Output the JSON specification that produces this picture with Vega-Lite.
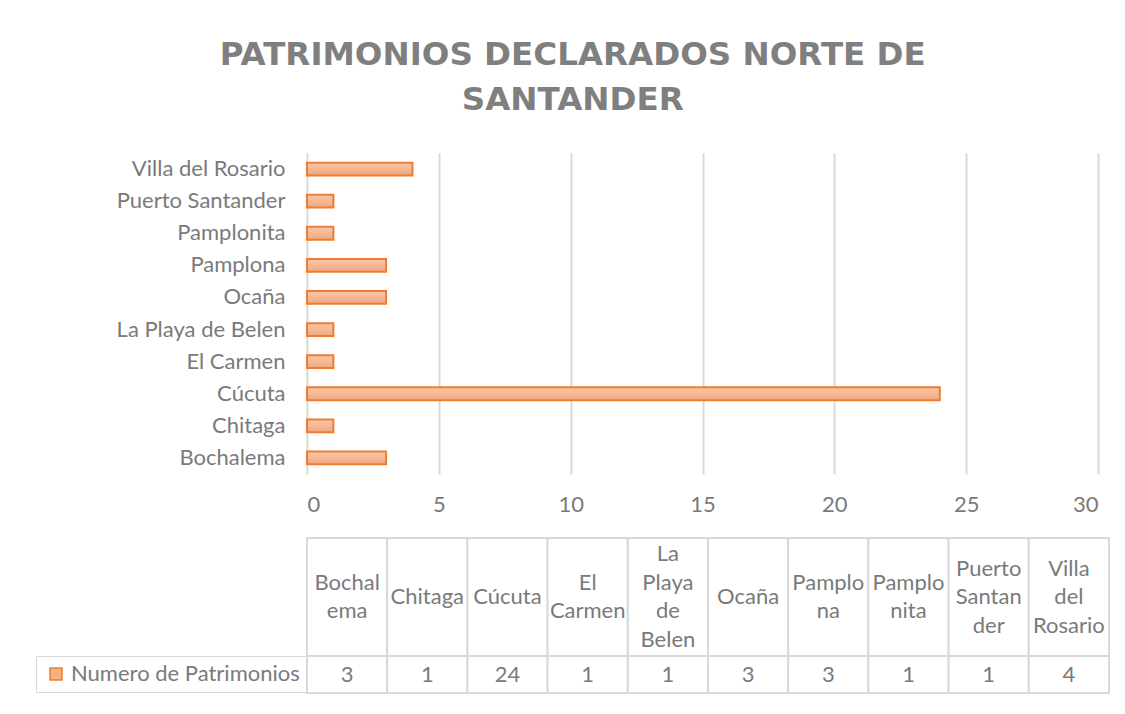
{
  "$schema": "https://vega.github.io/schema/vega-lite/v6.json",
  "background": "white",
  "padding": {"left": 35, "top": 38, "right": 15, "bottom": 20},
  "title": {
    "text": ["PATRIMONIOS DECLARADOS NORTE DE", "SANTANDER"],
    "font": "DejaVu Sans",
    "fontSize": 32.5,
    "fontWeight": "bold",
    "color": "#7f7f7f",
    "anchor": "middle",
    "frame": "bounds",
    "lineHeight": 45,
    "offset": 37
  },
  "datasets": {
    "d": [
      {"municipio": "Bochalema", "label": "Bochal\nema", "lineas": 2, "n": 3, "serie": "Numero de Patrimonios"},
      {"municipio": "Chitaga", "label": "Chitaga", "lineas": 1, "n": 1, "serie": "Numero de Patrimonios"},
      {"municipio": "Cúcuta", "label": "Cúcuta", "lineas": 1, "n": 24, "serie": "Numero de Patrimonios"},
      {"municipio": "El Carmen", "label": "El\nCarmen", "lineas": 2, "n": 1, "serie": "Numero de Patrimonios"},
      {"municipio": "La Playa de Belen", "label": "La\nPlaya\nde\nBelen", "lineas": 4, "n": 1, "serie": "Numero de Patrimonios"},
      {"municipio": "Ocaña", "label": "Ocaña", "lineas": 1, "n": 3, "serie": "Numero de Patrimonios"},
      {"municipio": "Pamplona", "label": "Pamplo\nna", "lineas": 2, "n": 3, "serie": "Numero de Patrimonios"},
      {"municipio": "Pamplonita", "label": "Pamplo\nnita", "lineas": 2, "n": 1, "serie": "Numero de Patrimonios"},
      {"municipio": "Puerto Santander", "label": "Puerto\nSantan\nder", "lineas": 3, "n": 1, "serie": "Numero de Patrimonios"},
      {"municipio": "Villa del Rosario", "label": "Villa\ndel\nRosario", "lineas": 3, "n": 4, "serie": "Numero de Patrimonios"}
    ]
  },
  "config": {
    "font": "Lato",
    "view": {"stroke": null},
    "axis": {"labelFont": "Lato", "labelColor": "#7a7a7a", "labelFontSize": 22}
  },
  "bounds": "flush",
  "spacing": 64,
  "resolve": {"scale": {"opacity": "independent"}, "legend": {"opacity": "independent"}},
  "vconcat": [
    {
      "width": 791,
      "height": 321,
      "data": {"name": "d"},
      "mark": {
        "type": "bar",
        "fill": {"gradient": "linear", "x1": 0, "y1": 0, "x2": 0, "y2": 1,
          "stops": [{"offset": 0, "color": "#f8c8ab"}, {"offset": 1, "color": "#f4a67c"}]},
        "stroke": "#ed7d31",
        "strokeWidth": 2
      },
      "encoding": {
        "y": {
          "field": "municipio", "type": "nominal",
          "sort": ["Villa del Rosario", "Puerto Santander", "Pamplonita", "Pamplona", "Ocaña", "La Playa de Belen", "El Carmen", "Cúcuta", "Chitaga", "Bochalema"],
          "scale": {"paddingInner": 0.6, "paddingOuter": 0.3},
          "axis": {"title": null, "ticks": false, "domain": false, "labelPadding": 22, "labelLimit": 300}
        },
        "x": {
          "field": "n", "type": "quantitative",
          "scale": {"domain": [0, 30], "nice": false},
          "axis": {"title": null, "values": [0, 5, 10, 15, 20, 25, 30], "grid": true, "gridColor": "#d9d9d9", "gridWidth": 2,
            "domain": false, "ticks": false, "labelPadding": 20}
        }
      }
    },
    {
      "bounds": "flush",
      "spacing": 0,
      "resolve": {"scale": {"opacity": "independent"}, "legend": {"opacity": "independent"}},
      "vconcat": [
        {
          "width": 802,
          "height": 118,
          "data": {"name": "d"},
          "encoding": {
            "x": {
              "field": "municipio", "type": "nominal",
              "sort": ["Bochalema", "Chitaga", "Cúcuta", "El Carmen", "La Playa de Belen", "Ocaña", "Pamplona", "Pamplonita", "Puerto Santander", "Villa del Rosario"],
              "scale": {"paddingInner": 0, "paddingOuter": 0},
              "axis": null
            }
          },
          "layer": [
            {"mark": {"type": "rect", "fill": "white", "stroke": "#d9d9d9", "strokeWidth": 2}},
            {"mark": {"type": "text", "lineBreak": "\n", "fontSize": 22, "lineHeight": 28.5, "color": "#7a7a7a", "baseline": "middle", "font": "Lato"},
             "encoding": {
               "text": {"field": "label"},
               "y": {"field": "lineas", "type": "quantitative", "scale": {"domain": [1, 4], "range": [59, 16.25], "zero": false, "nice": false}, "axis": null}
             }}
          ]
        },
        {
          "width": 802,
          "height": 37,
          "data": {"name": "d"},
          "encoding": {
            "x": {
              "field": "municipio", "type": "nominal",
              "sort": ["Bochalema", "Chitaga", "Cúcuta", "El Carmen", "La Playa de Belen", "Ocaña", "Pamplona", "Pamplonita", "Puerto Santander", "Villa del Rosario"],
              "scale": {"paddingInner": 0, "paddingOuter": 0},
              "axis": null
            }
          },
          "layer": [
            {"mark": {"type": "rect", "fill": "white", "stroke": "#d9d9d9", "strokeWidth": 2}},
            {
              "mark": {"type": "rect", "fill": "#f4b183", "stroke": "#ed7d31", "fillOpacity": 0, "strokeOpacity": 0},
              "encoding": {
                "opacity": {
                  "field": "serie", "type": "nominal",
                  "scale": {"type": "ordinal", "range": [1]},
                  "legend": {
                    "title": null, "orient": "left", "offset": 0, "padding": 7,
                    "strokeColor": "#d9d9d9",
                    "symbolType": "square", "symbolSize": 144, "symbolOffset": 2, "symbolStrokeWidth": 1.5,
                    "labelFont": "Lato", "labelFontSize": 22, "labelColor": "#7a7a7a", "labelOffset": 4, "labelLimit": 400
                  }
                }
              }
            },
            {"mark": {"type": "text", "fontSize": 22, "color": "#7a7a7a", "baseline": "middle", "font": "Lato"},
             "encoding": {"text": {"field": "n"}}}
          ]
        }
      ]
    }
  ]
}
